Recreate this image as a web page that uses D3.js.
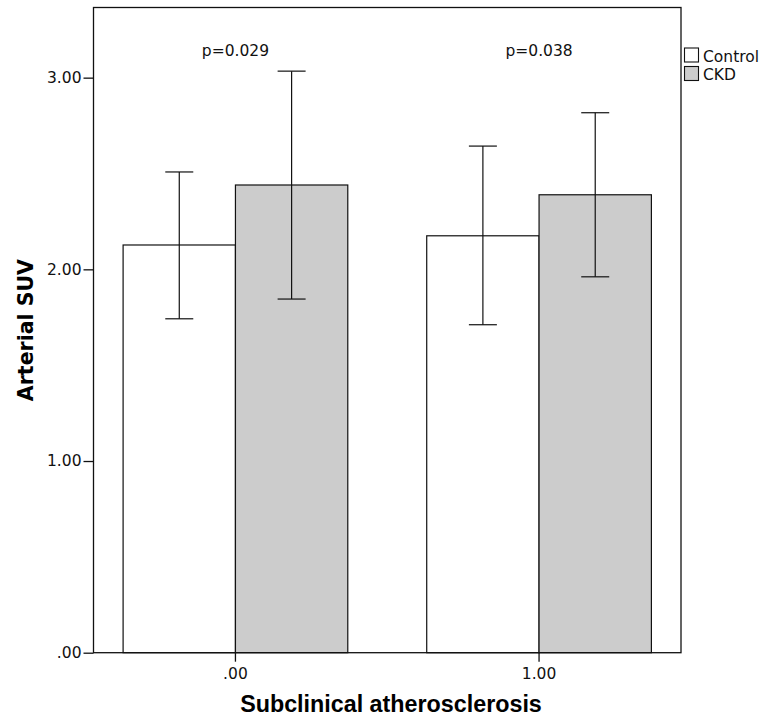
<!DOCTYPE html>
<html>
<head>
<meta charset="utf-8">
<script src="https://cdn.jsdelivr.net/npm/d3@7"></script>
<style>
  body { margin: 0; background: #fff; }
  svg { display: block; }
</style>
</head>
<body>
<div id="chart"></div>
<script>
// values
const categories = [".00", "1.00"];
const groups = ["Control", "CKD"];
const controlMean = [2.127, 2.175];
const controlLow = [1.742, 1.711];
const controlHigh = [2.508, 2.643];
const ckdMean = [2.440, 2.389];
const ckdLow = [1.845, 1.961];
const ckdHigh = [3.034, 2.817];
const pLabels = ["p=0.029", "p=0.038"];
const yTicks = [0, 1, 2, 3];
const groupColors = ["#ffffff", "#cccccc"];

function drawChart(containerId = "#chart") {
    const W = 763, H = 719;
    const margin = { top: 7.5, left: 93.5, right: 82, bottom: 66.3 };
    const width = W - margin.left - margin.right;
    const height = H - margin.top - margin.bottom;
    const stroke = "#111";
    const tickFont = "'DejaVu Sans', Verdana, sans-serif";

    const rows = [];
    categories.forEach((c, i) => {
        rows.push({ cat: c, group: "Control", mean: controlMean[i], lo: controlLow[i], hi: controlHigh[i] });
        rows.push({ cat: c, group: "CKD", mean: ckdMean[i], lo: ckdLow[i], hi: ckdHigh[i] });
    });

    const root = d3.select(containerId)
        .append("svg")
        .attr("width", W)
        .attr("height", H);

    const svg = root.append("g")
        .attr("transform", `translate(${margin.left},${margin.top})`);

    const x = d3.scaleBand()
        .domain(categories)
        .range([0, width])
        .paddingInner(0.26)
        .paddingOuter(0.0975);

    const xSub = d3.scaleBand()
        .domain(groups)
        .range([0, x.bandwidth()])
        .padding(0);

    const color = d3.scaleOrdinal().domain(groups).range(groupColors);

    const y = d3.scaleLinear()
        .domain([0, 3.366])
        .range([height, 0]);

    // bars
    svg.selectAll("rect.bar")
        .data(rows)
        .enter().append("rect")
        .attr("class", "bar")
        .attr("x", d => x(d.cat) + xSub(d.group))
        .attr("y", d => y(d.mean))
        .attr("width", xSub.bandwidth())
        .attr("height", d => y(0) - y(d.mean))
        .attr("fill", d => color(d.group))
        .attr("stroke", stroke)
        .attr("stroke-width", 1.2);

    // error bars
    const cap = 14;
    const eb = svg.selectAll("g.err")
        .data(rows)
        .enter().append("g")
        .attr("class", "err")
        .attr("transform", d => `translate(${x(d.cat) + xSub(d.group) + xSub.bandwidth() / 2},0)`)
        .attr("stroke", stroke)
        .attr("stroke-width", 1.2);

    eb.append("line")
        .attr("y1", d => y(d.lo))
        .attr("y2", d => y(d.hi));
    eb.append("line")
        .attr("x1", -cap).attr("x2", cap)
        .attr("y1", d => y(d.hi)).attr("y2", d => y(d.hi));
    eb.append("line")
        .attr("x1", -cap).attr("x2", cap)
        .attr("y1", d => y(d.lo)).attr("y2", d => y(d.lo));

    // p-values
    svg.selectAll("text.pval")
        .data(categories)
        .enter().append("text")
        .attr("class", "pval")
        .attr("x", d => x(d) + x.bandwidth() / 2)
        .attr("y", 48.5)
        .attr("text-anchor", "middle")
        .style("font-family", tickFont)
        .style("font-size", "15.5px")
        .attr("fill", "#111")
        .text((d, i) => pLabels[i]);

    // plot frame
    svg.append("rect")
        .attr("width", width)
        .attr("height", height)
        .attr("fill", "none")
        .attr("stroke", stroke)
        .attr("stroke-width", 1.3);

    // axes
    const yAxis = svg.append("g")
        .call(d3.axisLeft(y)
            .tickValues(yTicks)
            .tickSize(10)
            .tickPadding(2)
            .tickFormat(d => d === 0 ? ".00" : d.toFixed(2)));

    const xAxis = svg.append("g")
        .attr("transform", `translate(0,${height})`)
        .call(d3.axisBottom(x).tickSize(9).tickPadding(6.5));

    [yAxis, xAxis].forEach(a => {
        a.select(".domain").remove();
        a.selectAll("line").attr("stroke", stroke).attr("stroke-width", 1.3);
        a.selectAll("text")
            .attr("fill", "#111")
            .style("font-family", tickFont)
            .style("font-size", "15.5px");
    });

    // axis titles
    root.append("text")
        .attr("transform", `translate(33,${margin.top + height / 2}) rotate(-90)`)
        .attr("text-anchor", "middle")
        .style("font-family", "'DejaVu Sans', Verdana, sans-serif")
        .style("font-weight", "bold")
        .style("font-size", "20.5px")
        .text("Arterial SUV");

    root.append("text")
        .attr("x", 391)
        .attr("y", 712)
        .attr("text-anchor", "middle")
        .style("font-family", "'Liberation Sans', Arial, sans-serif")
        .style("font-weight", "bold")
        .style("font-size", "23.3px")
        .text("Subclinical atherosclerosis");

    // legend
    const legend = root.append("g")
        .attr("transform", `translate(684.5,48)`);
    const li = legend.selectAll("g")
        .data(groups)
        .enter().append("g")
        .attr("transform", (d, i) => `translate(0,${i * 18.5})`);
    li.append("rect")
        .attr("width", 14)
        .attr("height", 14)
        .attr("fill", d => color(d))
        .attr("stroke", stroke)
        .attr("stroke-width", 1.1);
    li.append("text")
        .attr("x", 18.5)
        .attr("y", 13.5)
        .style("font-family", tickFont)
        .style("font-size", "15.5px")
        .attr("fill", "#111")
        .text(d => d);
}

drawChart();
</script>
</body>
</html>
